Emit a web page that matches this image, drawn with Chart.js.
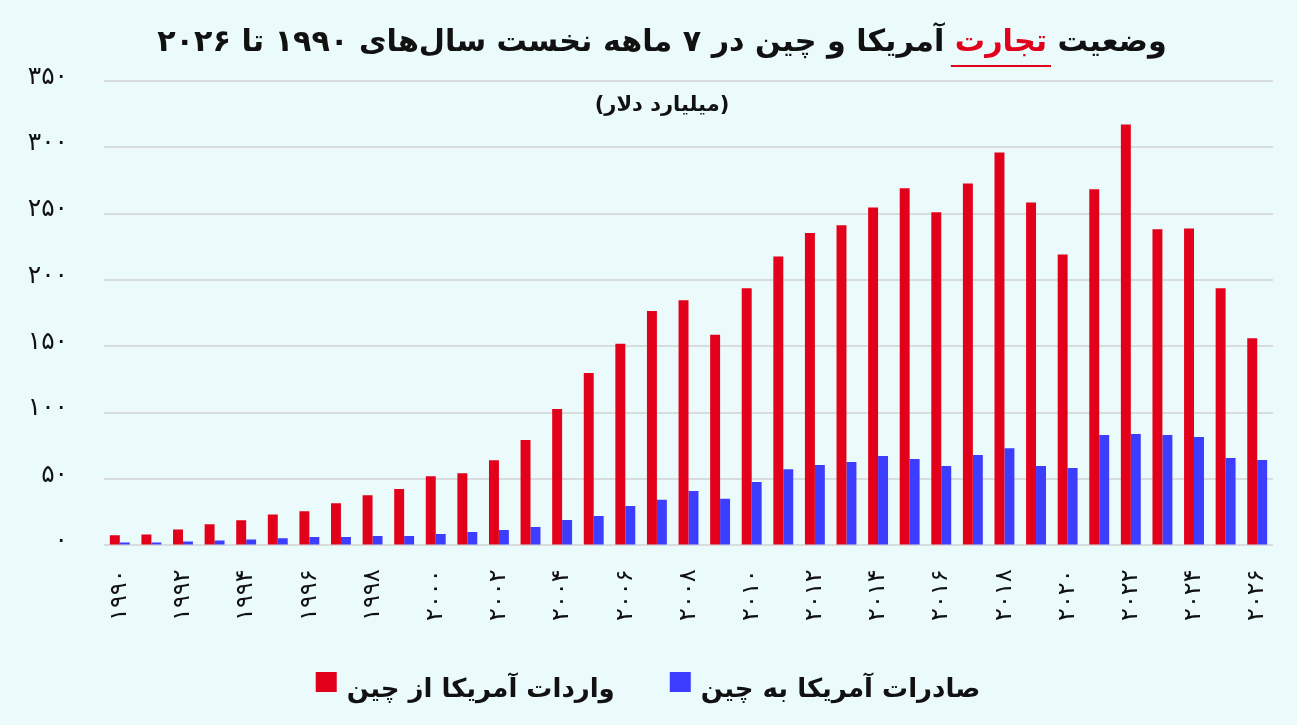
<!DOCTYPE html>
<html lang="fa">
<head>
<meta charset="utf-8">
<title>وضعیت تجارت آمریکا و چین</title>
<script src="https://cdn.jsdelivr.net/npm/chart.js@4.4.1/dist/chart.umd.min.js"></script>
<style>
    html, body { margin: 0; padding: 0; background: #ebfbfc; }
    #box { width: 1297px; height: 725px; position: relative; }
</style>
</head>
<body>
<div id="box"><canvas id="bar-chart-grouped"></canvas></div>
<script>
// years shown on the x axis (7 first months of each year)
var _anos = [1990, 1991, 1992, 1993, 1994, 1995, 1996, 1997, 1998, 1999,
    2000, 2001, 2002, 2003, 2004, 2005, 2006, 2007, 2008, 2009,
    2010, 2011, 2012, 2013, 2014, 2015, 2016, 2017, 2018, 2019,
    2020, 2021, 2022, 2023, 2024, 2025, 2026];

// US imports from China (billion $)
var _importacoes = [7.6, 8.3, 12.1, 15.9, 18.9, 23.4, 25.7, 31.8, 37.8, 42.6,
    52.2, 54.4, 64.2, 79.4, 102.8, 130, 152, 176.6, 184.7, 158.8,
    193.9, 217.8, 235.4, 241.2, 254.7, 269.2, 251.1, 272.8, 296.2, 258.5,
    219.3, 268.4, 317.3, 238.2, 238.9, 193.9, 156.2];

// US exports to China (billion $)
var _exportacoes = [2.3, 2.3, 3.0, 3.8, 4.5, 5.5, 6.3, 6.3, 7.1, 7.1,
    8.6, 10.1, 11.6, 13.9, 19.2, 22.2, 29.8, 34.4, 41.0, 35.1,
    47.8, 57.5, 60.6, 62.8, 67.4, 65.1, 59.8, 68.2, 73.3, 59.8,
    58.3, 83.2, 84.0, 83.2, 81.7, 65.9, 64.4];

var _ticksY = ['۰', '۵۰', '۱۰۰', '۱۵۰', '۲۰۰', '۲۵۰', '۳۰۰', '۳۵۰'];

var _serieImport = 'واردات آمریکا از چین';
var _serieExport = 'صادرات آمریکا به چین';
var _tituloA = 'وضعیت';
var _tituloB = 'تجارت';
var _tituloC = 'آمریکا و چین در ۷ ماهه نخست سال‌های ۱۹۹۰ تا ۲۰۲۶';
var _unidade = '(میلیارد دلار)';

var _fonte = "'DejaVu Sans', 'Noto Sans', sans-serif";

function paraPersa(n) {
    return String(n).replace(/[0-9]/g, function (d) { return '۰۱۲۳۴۵۶۷۸۹'[d]; });
}

var _tituloPlugin = {
    id: 'tituloPersa',
    afterDraw: function (chart) {
        var ctx = chart.ctx;
        ctx.save();
        ctx.direction = 'rtl';
        ctx.textBaseline = 'alphabetic';
        ctx.textAlign = 'right';

        // title, sized to the reference width
        var tam = 33;
        ctx.font = 'bold ' + tam + 'px ' + _fonte;
        var wA = ctx.measureText(_tituloA + ' ').width;
        var wB = ctx.measureText(_tituloB + ' ').width;
        var wC = ctx.measureText(_tituloC).width;
        var total = wA + wB + wC;
        if (total > 1010) {
            tam = tam * 1010 / total;
            ctx.font = 'bold ' + tam + 'px ' + _fonte;
            wA = ctx.measureText(_tituloA + ' ').width;
            wB = ctx.measureText(_tituloB + ' ').width;
            wC = ctx.measureText(_tituloC).width;
            total = wA + wB + wC;
        }
        var direita = 662 + total / 2;
        var base = 51;
        ctx.fillStyle = '#111111';
        ctx.fillText(_tituloA, direita, base);
        ctx.fillStyle = '#e2001a';
        ctx.fillText(_tituloB, direita - wA, base);
        var wBs = ctx.measureText(_tituloB).width;
        ctx.fillRect(direita - wA - wBs - 4, base + 14, wBs + 8, 2);
        ctx.fillStyle = '#111111';
        ctx.fillText(_tituloC, direita - wA - wB, base);

        // unit
        ctx.textAlign = 'center';
        ctx.font = 'bold 21px ' + _fonte;
        ctx.fillText(_unidade, 662, 111);
        ctx.restore();
    }
};

// legend drawn by hand so the spacing matches the reference
var _legendaPlugin = {
    id: 'legendaPersa',
    afterDraw: function (chart) {
        var ctx = chart.ctx;
        var ds = chart.data.datasets;
        ctx.save();
        ctx.font = 'bold 26px ' + _fonte;
        ctx.textBaseline = 'alphabetic';
        ctx.textAlign = 'left';
        var caixa = 21, vao = 10, entre = 55;
        var larg = 0;
        ds.forEach(function (d, i) {
            larg += caixa + vao + ctx.measureText(d.label).width;
            if (i > 0) larg += entre;
        });
        var x = 648 - larg / 2;
        ds.forEach(function (d) {
            ctx.fillStyle = d.backgroundColor;
            ctx.fillRect(x, 672, caixa, 20);
            x += caixa + vao;
            ctx.fillStyle = '#111111';
            ctx.fillText(d.label, x, 697);
            x += ctx.measureText(d.label).width + entre;
        });
        ctx.restore();
    }
};

function InicializarChart() {
    var _labels = new Array();
    _anos.forEach(function (a) { _labels.push(paraPersa(a)); });

    Chart.defaults.font.family = _fonte;
    Chart.defaults.color = '#111111';

    new Chart(document.getElementById('bar-chart-grouped'), {
        type: 'bar',
        data: {
            labels: _labels,
            datasets: [
                {
                    label: _serieImport,
                    backgroundColor: '#e2001a',
                    data: _importacoes
                }, {
                    label: _serieExport,
                    backgroundColor: '#3d3dff',
                    data: _exportacoes
                }
            ]
        },
        options: {
            responsive: true,
            maintainAspectRatio: false,
            animation: false,
            layout: { padding: { top: 81, left: 0, right: 24, bottom: 80 } },
            datasets: {
                bar: { categoryPercentage: 0.63, barPercentage: 1.0 }
            },
            plugins: {
                title: { display: false },
                tooltip: { enabled: false },
                legend: { display: false }
            },
            scales: {
                x: {
                    afterFit: function (escala) {
                        escala.paddingRight = 0;
                        escala.paddingLeft = 0;
                    },
                    grid: { display: false, drawTicks: false },
                    border: { display: false },
                    ticks: {
                        autoSkip: false,
                        minRotation: 90,
                        maxRotation: 90,
                        padding: 24,
                        color: '#111111',
                        font: { size: 24 },
                        callback: function (valor, idx) {
                            return idx % 2 === 0 ? this.getLabelForValue(valor) : '';
                        }
                    }
                },
                y: {
                    min: 0,
                    max: 350,
                    afterFit: function (escala) { escala.width = 104; },
                    grid: { color: '#d9dcdd', lineWidth: 2, drawTicks: false },
                    border: { display: false },
                    ticks: {
                        stepSize: 50,
                        padding: 36,
                        labelOffset: -4,
                        color: '#111111',
                        font: { size: 25 },
                        callback: function (valor) {
                            return _ticksY[Math.round(valor / 50)];
                        }
                    }
                }
            }
        },
        plugins: [_tituloPlugin, _legendaPlugin]
    });
}

InicializarChart();
</script>
</body>
</html>
